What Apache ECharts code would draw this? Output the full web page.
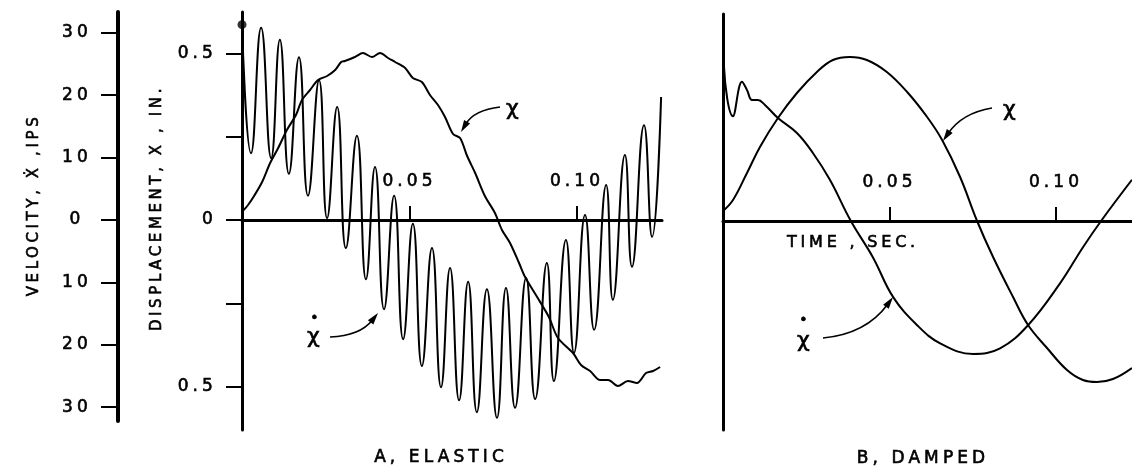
<!DOCTYPE html>
<html><head><meta charset="utf-8">
<script src="https://cdn.jsdelivr.net/npm/echarts@6.0.0/dist/echarts.min.js"></script>
<style>
html,body{margin:0;padding:0;background:#fff;}
#chart{width:1132px;height:469px;}
</style></head><body><div id="chart"></div>
<script>
// ---------- DATA (time in ms) ----------
// A, ELASTIC : displacement x (in.)
const elasticDispTimeMs = [0,1.8,3.6,6.0,8.4,10.8,13.4,16.1,17.9,20.3,22.7,25.4,27.8,29.6,30.7,33.7,36.1,38.8,41.2,43.6,45.7,48.7,51.0,53.7,56.1,58.5,60.6,63.0,65.1,67.2,69.6,72.5,75.5,77.6,80.0,82.7,84.5,88.1,91.6,94.3,98.8,101.2,103.9,106.9,109.3,112.2,115.2,117.9,120.6,122.7,124.8];
const elasticDisp = [0.024,0.045,0.072,0.114,0.171,0.216,0.270,0.315,0.360,0.390,0.420,0.432,0.450,0.474,0.477,0.489,0.501,0.489,0.501,0.486,0.474,0.456,0.426,0.414,0.375,0.345,0.309,0.258,0.246,0.192,0.141,0.072,0.021,-0.030,-0.069,-0.129,-0.171,-0.231,-0.291,-0.354,-0.399,-0.435,-0.453,-0.480,-0.480,-0.498,-0.483,-0.489,-0.459,-0.453,-0.441];
// A, ELASTIC : velocity x-dot (ips)
const elasticVelTimeMs = [0,2.7,5.7,8.7,11.3,14.0,17.0,19.7,23.0,25.4,28.4,31.0,34.3,37.0,39.7,42.4,45.4,48.1,51.0,53.7,56.7,59.4,62.1,64.8,67.5,70.1,73.1,76.1,78.8,81.5,84.8,87.5,91.0,93.1,96.7,99.1,102.4,105.1,108.7,110.7,114.3,116.4,120.0,122.4,125.1];
const elasticVel = [31.3,10.7,30.8,9.9,28.9,7.4,26.1,3.9,22.4,0.3,18.1,-4.5,13.5,-9.5,8.5,-14.3,3.9,-19.1,-0.6,-23.4,-4.5,-26.8,-7.7,-28.9,-9.9,-30.8,-11.1,-31.7,-10.9,-30.1,-9.3,-28.7,-6.9,-25.8,-3.2,-21.3,0.8,-17.6,5.6,-12.8,10.4,-7.5,15.2,-2.7,19.7];
// B, DAMPED : displacement
const dampedDispTimeMs = [0,3.0,7.2,11.1,16.5,22.2,28.2,33.0,38.1,43.2,49.2,55.3,61.3,65.8,71.2,76.3,81.1,87.1,91.6,97.3,103.3,108.1,112.3,117.1,122.8];
const dampedDisp = [0.030,0.063,0.144,0.222,0.309,0.384,0.447,0.483,0.492,0.483,0.447,0.387,0.312,0.243,0.132,0,-0.108,-0.228,-0.312,-0.381,-0.447,-0.477,-0.483,-0.474,-0.441];
// B, DAMPED : velocity
const dampedVelTimeMs = [0,0.3,3.0,5.7,7.2,8.7,10.5,12.6,16.5,22.2,27.0,32.1,38.4,45.0,51.1,58.3,65.2,75.1,83.2,91.6,101.2,108.1,113.8,122.8];
const dampedVel = [32.9,24.7,16.8,22.3,21.0,19.4,19.4,18.6,16.5,14.1,10.9,6.6,0,-5.8,-12.2,-16.7,-19.6,-21.3,-20.4,-16.7,-10.0,-4.2,0.2,6.6];
// tick labels
const timeTicks = [0.05, 0.10];
const velTicks = [-30,-20,-10,0,10,20,30];
const dispTicks = [-0.5,-0.25,0,0.25,0.5];
const dispLabels = [-0.5,0,0.5];

// ---------- wide lettering (like the drafting lettering of the original) ----------
(function(){
  const P = CanvasRenderingContext2D.prototype;
  if (!('letterSpacing' in P)) return;
  const f = P.fillText, s = P.strokeText, m = P.measureText;
  function ls(ctx){
    const mm = /(\d+(?:\.\d+)?)px/.exec(ctx.font);
    const px = mm ? parseFloat(mm[1]) : 12;
    ctx.letterSpacing = (px * 0.24).toFixed(1) + 'px';
  }
  P.fillText = function(){ ls(this); return f.apply(this, arguments); };
  P.strokeText = function(){ ls(this); return s.apply(this, arguments); };
  P.measureText = function(){ ls(this); return m.apply(this, arguments); };
})();

// ---------- CHART ----------
const INK = '#000';
const FONT = 'DejaVu Sans';
const chart = echarts.init(document.getElementById('chart'));
const pairs = (t, v) => t.map((tt, i) => [tt / 1000, v[i]]);
const labelInk = {color:INK, fontSize:17, fontFamily:FONT, textBorderColor:INK, textBorderWidth:0.6};

function timeAxisVisible(grid, max){
  return {
    gridIndex: grid, type:'value', min:0, max:max, position:'bottom',
    axisLine:{show:true, onZero:false, lineStyle:{color:INK, width:3}},
    axisTick:{show:true, inside:true, length:14, customValues:timeTicks, lineStyle:{color:INK, width:2}},
    axisLabel:Object.assign({show:true, inside:true, customValues:timeTicks, margin:28, formatter:v=>v.toFixed(2)}, labelInk),
    splitLine:{show:false}
  };
}
function lineSeries(xi, yi, data, smooth){
  return {type:'line', xAxisIndex:xi, yAxisIndex:yi, data:data, smooth:smooth,
    symbol:'none', lineStyle:{color:INK, width:2}, silent:true};
}
function arrow(x1,y1,cx,cy,x2,y2){
  const dx=x2-cx, dy=y2-cy, L=Math.hypot(dx,dy), ux=dx/L, uy=dy/L;
  const hl=12, hw=3.5;
  const bx=x2-ux*hl, by=y2-uy*hl;
  return [
    {type:'bezierCurve', shape:{x1:x1,y1:y1,cpx1:cx,cpy1:cy,x2:bx+ux*3,y2:by+uy*3}, style:{stroke:INK, lineWidth:1.6, fill:'none'}},
    {type:'polygon', shape:{points:[[x2,y2],[bx-uy*hw,by+ux*hw],[bx+uy*hw,by-ux*hw]]}, style:{fill:INK}}
  ];
}
function txt(x,y,text,size,align,rot){
  return {type:'text', x:x, y:y, rotation:rot||0,
    style:{text:text, fill:INK, stroke:INK, lineWidth:0.6, fontSize:size, fontFamily:FONT,
      textAlign:align||'center', textVerticalAlign:'middle', align:align||'center', verticalAlign:'middle'}};
}

const option = {
  animation:false,
  backgroundColor:'#fff',
  grid:[
    {left:242, top:12, width:420, height:418},   // 0: A plot
    {left:723, top:14, width:409, height:416},   // 1: B plot
    {left:118, top:12, width:1, height:409},     // 2: velocity scale
    {left:242, top:12, width:420, height:208},   // 3: A time axis (zero line)
    {left:723, top:14, width:409, height:207}    // 4: B time axis (zero line)
  ],
  xAxis:[
    {gridIndex:0, type:'value', min:0, max:0.12537, show:false},
    {gridIndex:1, type:'value', min:0, max:0.12282, show:false},
    {gridIndex:2, type:'value', min:0, max:1, show:false},
    timeAxisVisible(3, 0.12537),
    timeAxisVisible(4, 0.12282)
  ],
  yAxis:[
    {gridIndex:0, type:'value', min:-0.63, max:0.624, position:'left',
      axisLine:{show:true, onZero:false, lineStyle:{color:INK, width:3}},
      axisTick:{show:true, length:16, customValues:dispTicks, lineStyle:{color:INK, width:2}},
      axisLabel:Object.assign({show:true, customValues:dispLabels, margin:25, formatter:v=>v===0?'0':'0.5'}, labelInk),
      splitLine:{show:false}},
    {gridIndex:0, type:'value', min:-33.654, max:33.333, show:false},
    {gridIndex:1, type:'value', min:-0.627, max:0.621, position:'left',
      axisLine:{show:true, onZero:false, lineStyle:{color:INK, width:3}},
      axisTick:{show:false}, axisLabel:{show:false}, splitLine:{show:false}},
    {gridIndex:1, type:'value', min:-33.494, max:33.173, show:false},
    {gridIndex:2, type:'value', min:-32.212, max:33.333, position:'left',
      axisLine:{show:true, onZero:false, lineStyle:{color:INK, width:4}},
      axisTick:{show:true, length:17, customValues:velTicks, lineStyle:{color:INK, width:2}},
      axisLabel:Object.assign({show:true, customValues:velTicks, margin:41, align:'center', formatter:v=>String(Math.abs(v))}, labelInk),
      splitLine:{show:false}},
    {gridIndex:3, type:'value', min:0, max:1, show:false},
    {gridIndex:4, type:'value', min:0, max:1, show:false}
  ],
  series:[
    lineSeries(0, 0, pairs(elasticDispTimeMs, elasticDisp), 0.3),
    lineSeries(0, 1, pairs(elasticVelTimeMs, elasticVel), 0.5),
    {type:'scatter', xAxisIndex:0, yAxisIndex:1, clip:false, symbolSize:9,
      itemStyle:{color:INK}, data:[[elasticVelTimeMs[0]/1000, elasticVel[0]]], silent:true},
    lineSeries(1, 2, pairs(dampedDispTimeMs, dampedDisp), 0.4),
    lineSeries(1, 3, pairs(dampedVelTimeMs, dampedVel), 0.4)
  ],
  graphic:[].concat(
    [
      txt(34, 205, 'VELOCITY, Ẋ ,IPS', 15, 'center', Math.PI/2),
      txt(157, 208, 'DISPLACEMENT, X , IN.', 15, 'center', Math.PI/2),
      txt(441, 458, 'A, ELASTIC', 17),
      txt(923, 459, 'B, DAMPED', 17),
      txt(787, 243, 'TIME , SEC.', 16, 'left'),
      txt(515, 109, 'χ', 22),
      txt(1012, 110, 'χ', 22),
      txt(316, 337, 'χ', 22),
      txt(316, 318, '•', 14),
      txt(806, 341, 'χ', 22),
      txt(805, 320, '•', 14)
    ],
    arrow(500,107, 474,110, 461,132),
    arrow(330,337, 360,336, 378,313),
    arrow(992,108, 962,113, 943,141),
    arrow(823,338, 866,334, 893,297)
  )
};
chart.setOption(option);
</script></body></html>
